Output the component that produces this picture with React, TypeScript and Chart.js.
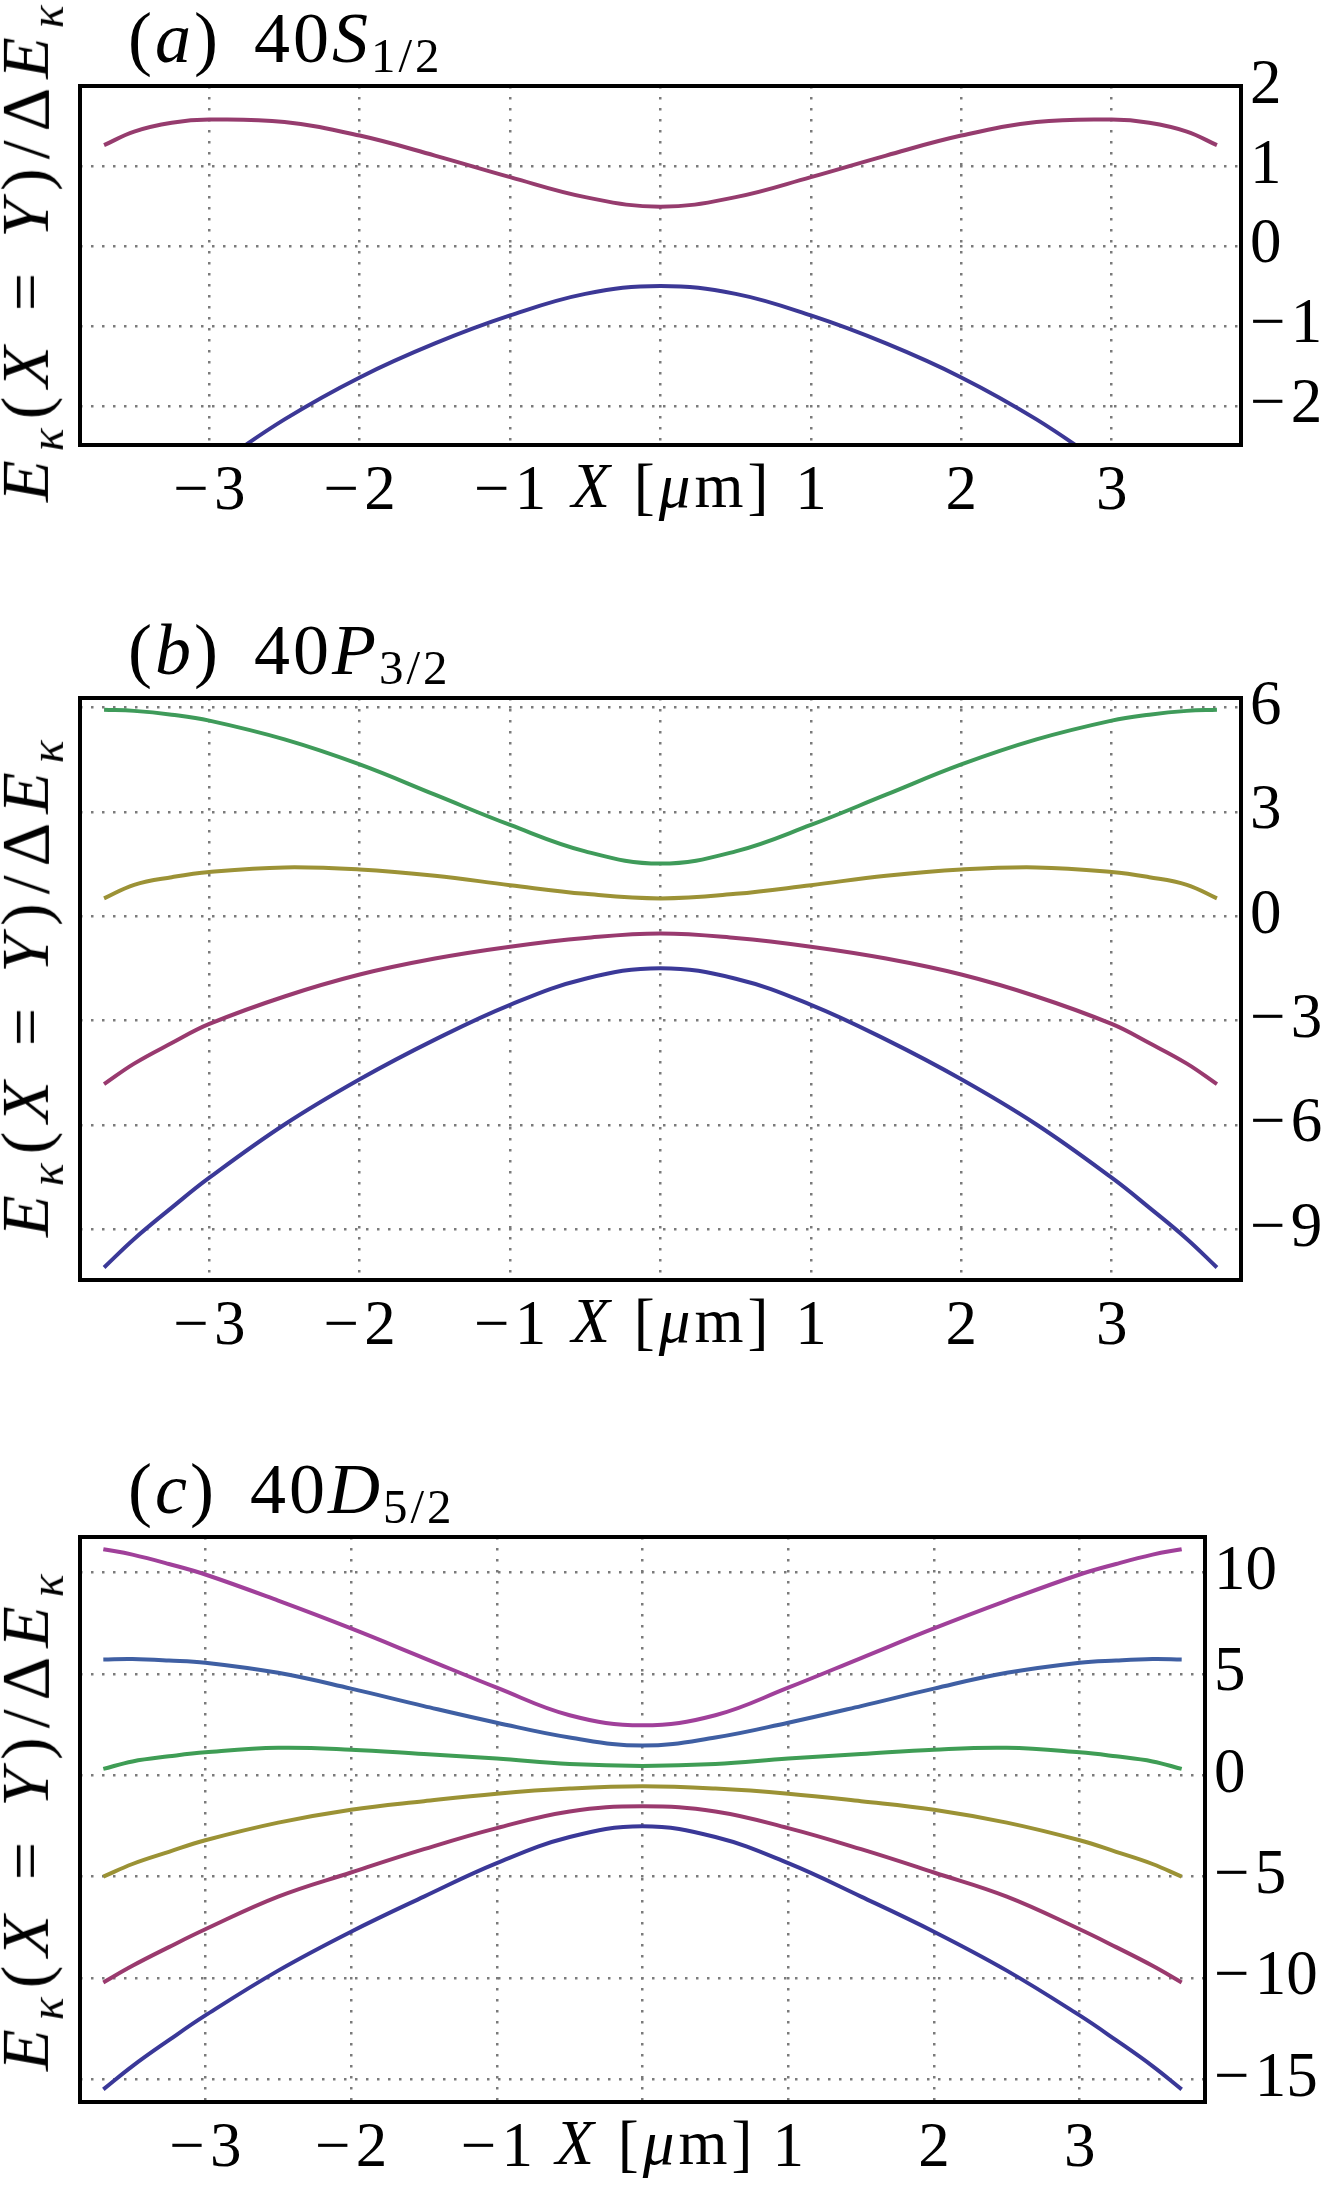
import { useEffect, useRef, type ReactNode } from "react";
import { Chart, registerables, type ChartConfiguration, type Plugin } from "chart.js";

Chart.register(...registerables);

const SERIF = '"Liberation Serif", "DejaVu Serif", serif';
const GRID = "#7a7a7a";

// shared sample positions along X [um]
const xPoints = [-3.7, -3.5, -3.25, -3, -2.5, -2, -1.5, -1, -0.5, 0, 0.5, 1, 1.5, 2, 2.5, 3, 3.25, 3.5, 3.7];
const xTicks = [-3, -2, -1, 0, 1, 2, 3];

// (a) 40S_1/2
const aTicks = [2, 1, 0, -1, -2];
const aUpper = [1.26, 1.43, 1.54, 1.58, 1.55, 1.38, 1.13, 0.86, 0.61, 0.49, 0.61, 0.86, 1.13, 1.38, 1.55, 1.58, 1.54, 1.43, 1.26];
const aLower = [-3.85, -3.42, -3.1, -2.8, -2.17, -1.645, -1.22, -0.87, -0.6, -0.5, -0.6, -0.87, -1.22, -1.645, -2.17, -2.8, -3.1, -3.42, -3.85];

// (b) 40P_3/2
const bTicks = [6, 3, 0, -3, -6, -9];
const bGreen = [5.93, 5.9, 5.79, 5.62, 5.08, 4.36, 3.49, 2.62, 1.86, 1.51, 1.86, 2.62, 3.49, 4.36, 5.08, 5.62, 5.79, 5.9, 5.93];
const bOlive = [0.51, 0.9, 1.12, 1.27, 1.4, 1.34, 1.16, 0.89, 0.64, 0.51, 0.64, 0.89, 1.16, 1.34, 1.4, 1.27, 1.12, 0.9, 0.51];
const bMagenta = [-4.83, -4.24, -3.65, -3.1, -2.31, -1.68, -1.22, -0.88, -0.63, -0.5, -0.63, -0.88, -1.22, -1.68, -2.31, -3.1, -3.65, -4.24, -4.83];
const bBlue = [-10.1, -9.28, -8.38, -7.52, -5.99, -4.69, -3.55, -2.55, -1.8, -1.5, -1.8, -2.55, -3.55, -4.69, -5.99, -7.52, -8.38, -9.28, -10.1];

// (c) 40D_5/2
const cTicks = [10, 5, 0, -5, -10, -15];
const cPurple = [11.15, 10.88, 10.42, 9.9, 8.61, 7.24, 5.78, 4.32, 2.96, 2.46, 2.96, 4.32, 5.78, 7.24, 8.61, 9.9, 10.42, 10.88, 11.15];
const cSteel = [5.71, 5.73, 5.66, 5.55, 5.05, 4.27, 3.41, 2.59, 1.86, 1.46, 1.86, 2.59, 3.41, 4.27, 5.05, 5.55, 5.66, 5.73, 5.71];
const cGreen = [0.31, 0.68, 0.93, 1.13, 1.35, 1.26, 1.04, 0.82, 0.55, 0.46, 0.55, 0.82, 1.04, 1.26, 1.35, 1.13, 0.93, 0.68, 0.31];
const cOlive = [-5.0, -4.38, -3.78, -3.21, -2.34, -1.7, -1.28, -0.91, -0.66, -0.55, -0.66, -0.91, -1.28, -1.7, -2.34, -3.21, -3.78, -4.38, -5.0];
const cMagenta = [-10.22, -9.4, -8.48, -7.6, -5.99, -4.8, -3.65, -2.61, -1.79, -1.53, -1.79, -2.61, -3.65, -4.8, -5.99, -7.6, -8.48, -9.4, -10.22];
const cBlue = [-15.5, -14.35, -13.07, -11.85, -9.64, -7.72, -5.99, -4.34, -3.05, -2.52, -3.05, -4.34, -5.99, -7.72, -9.64, -11.85, -13.07, -14.35, -15.5];

interface Series {
  values: number[];
  color: string;
}

interface Area {
  left: number;
  top: number;
  right: number;
  bottom: number;
}

interface PanelProps {
  top: number;
  height: number;
  area: Area;
  yMin: number;
  yMax: number;
  yTicks: number[];
  series: Series[];
  title: ReactNode;
  labelCenter: number;
  xLabelCenter: number;
}

// TeX-like minus, a little wider than the font's own
const minus = (v: number) => (v < 0 ? "\u2212\u200A" + Math.abs(v) : String(v));

// black box around the plot area
const framePlugin: Plugin = {
  id: "frame",
  afterDatasetsDraw(chart) {
    const { ctx, chartArea: a } = chart;
    ctx.save();
    ctx.strokeStyle = "#000";
    ctx.lineWidth = 4;
    ctx.strokeRect(a.left, a.top, a.right - a.left, a.bottom - a.top);
    ctx.restore();
  },
};

function Panel({ top, height, area, yMin, yMax, yTicks, series, title, labelCenter, xLabelCenter }: PanelProps) {
  const canvasRef = useRef<HTMLCanvasElement>(null);

  useEffect(() => {
    if (!canvasRef.current) return;
    const tickFont = { family: SERIF, size: 63 };

    const config: ChartConfiguration<"line"> = {
      type: "line",
      data: {
        datasets: series.map((s) => ({
          data: xPoints.map((x, i) => ({ x, y: s.values[i] })),
          borderColor: s.color,
          borderWidth: 4,
          pointRadius: 0,
          tension: 0.4,
          fill: false,
        })),
      },
      options: {
        animation: false,
        responsive: true,
        maintainAspectRatio: false,
        layout: { padding: { left: area.left, top: area.top, right: 0, bottom: 0 } },
        plugins: { legend: { display: false }, tooltip: { enabled: false } },
        scales: {
          x: {
            type: "linear",
            min: -3.86,
            max: 3.86,
            afterBuildTicks: (s) => {
              s.ticks = xTicks.map((v) => ({ value: v }));
            },
            afterFit: (s) => {
              s.height = height - area.bottom;
            },
            grid: { color: GRID, lineWidth: 2.5, drawTicks: false },
            border: { display: false, dash: [2.5, 8.5] },
            ticks: {
              font: tickFont,
              color: "#000",
              padding: 10,
              maxRotation: 0,
              autoSkip: false,
              // the 0 slot carries the axis name instead
              callback: (v) => (Number(v) === 0 ? "" : minus(Number(v))),
            },
          },
          y: {
            type: "linear",
            position: "right",
            min: yMin,
            max: yMax,
            afterBuildTicks: (s) => {
              s.ticks = yTicks.map((v) => ({ value: v }));
            },
            afterFit: (s) => {
              s.width = 1328 - area.right;
            },
            grid: { color: GRID, lineWidth: 2.5, drawTicks: false },
            border: { display: false, dash: [2.5, 8.5] },
            ticks: {
              font: tickFont,
              color: "#000",
              padding: 9,
              autoSkip: false,
              callback: (v) => minus(Number(v)),
            },
          },
        },
      },
      plugins: [framePlugin],
    };

    const chart = new Chart(canvasRef.current, config);
    return () => chart.destroy();
  }, []);

  return (
    <>
      <div style={{ position: "absolute", left: 0, top, width: 1328, height }}>
        <canvas ref={canvasRef} />
      </div>
      <div
        style={{
          position: "absolute",
          left: 128,
          top: top + area.top - 24 - 60,
          fontFamily: SERIF,
          fontSize: 72,
          lineHeight: 1,
          letterSpacing: 3,
          whiteSpace: "nowrap",
        }}
      >
        {title}
      </div>
      <div
        style={{
          position: "absolute",
          left: 31,
          top: labelCenter,
          transform: "translate(-50%, -50%) rotate(-90deg)",
          fontFamily: SERIF,
          fontSize: 68,
          lineHeight: 1,
          letterSpacing: 9,
          whiteSpace: "nowrap",
        }}
      >
        <i>E</i>
        <sub style={{ fontSize: "0.7em" }}>
          <i>κ</i>
        </sub>
        (<i>X</i> = <i>Y</i>)/Δ<i>E</i>
        <sub style={{ fontSize: "0.7em" }}>
          <i>κ</i>
        </sub>
      </div>
      <div
        style={{
          position: "absolute",
          left: xLabelCenter,
          top: top + area.bottom + 10,
          transform: "translateX(-50%)",
          fontFamily: SERIF,
          fontSize: 63,
          lineHeight: 1,
          letterSpacing: 4,
          whiteSpace: "nowrap",
        }}
      >
        <i>X</i> [<i>μ</i>m]
      </div>
    </>
  );
}

const subStyle = { fontSize: "0.68em", verticalAlign: "-10px" };
const gap = { marginLeft: 12 };

export default function App() {
  return (
    <div
      style={{
        position: "absolute",
        left: 0,
        top: 0,
        width: 1328,
        height: 2185,
        background: "#fff",
        overflow: "hidden",
      }}
    >
      <Panel
        top={0}
        height={540}
        area={{ left: 80, top: 86, right: 1241, bottom: 445 }}
        yMin={-2.49}
        yMax={2}
        yTicks={aTicks}
        series={[
          { values: aUpper, color: "#963c6e" },
          { values: aLower, color: "#3c3896" },
        ]}
        title={
          <>
            (<i>a</i>)&nbsp;<span style={gap}>40<i>S</i></span>
            <span style={subStyle}>1/2</span>
          </>
        }
        labelCenter={249}
        xLabelCenter={672}
      />
      <Panel
        top={560}
        height={820}
        area={{ left: 80, top: 138, right: 1241, bottom: 720 }}
        yMin={-10.46}
        yMax={6.27}
        yTicks={bTicks}
        series={[
          { values: bGreen, color: "#3f9b5a" },
          { values: bOlive, color: "#9c9236" },
          { values: bMagenta, color: "#993a6f" },
          { values: bBlue, color: "#3b3998" },
        ]}
        title={
          <>
            (<i>b</i>)&nbsp;<span style={gap}>40<i>P</i></span>
            <span style={subStyle}>3/2</span>
          </>
        }
        labelCenter={984}
        xLabelCenter={672}
      />
      <Panel
        top={1400}
        height={785}
        area={{ left: 80, top: 137, right: 1205, bottom: 702 }}
        yMin={-16.12}
        yMax={11.75}
        yTicks={cTicks}
        series={[
          { values: cPurple, color: "#a0409a" },
          { values: cSteel, color: "#3f5fa3" },
          { values: cGreen, color: "#3f9d55" },
          { values: cOlive, color: "#9b9235" },
          { values: cMagenta, color: "#9a3a6e" },
          { values: cBlue, color: "#3a3898" },
        ]}
        title={
          <>
            (<i>c</i>)&nbsp;<span style={gap}>40<i>D</i></span>
            <span style={subStyle}>5/2</span>
          </>
        }
        labelCenter={1818}
        xLabelCenter={656}
      />
    </div>
  );
}
